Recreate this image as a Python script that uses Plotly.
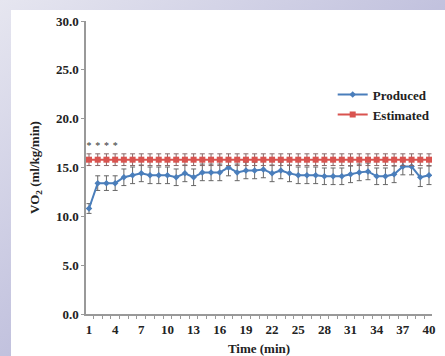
import base64
import plotly.graph_objects as go

minutes = list(range(1, 41))
produced = [10.8, 13.4, 13.4, 13.4, 14.0, 14.2, 14.4, 14.2, 14.2, 14.2,
            14.0, 14.4, 14.0, 14.5, 14.5, 14.5, 15.0, 14.5, 14.7, 14.7,
            14.8, 14.4, 14.7, 14.4, 14.2, 14.2, 14.2, 14.1, 14.1, 14.1,
            14.3, 14.5, 14.6, 14.1, 14.1, 14.3, 15.1, 15.1, 14.0, 14.2]
produced_err = [0.5, 0.75, 0.75, 0.75, 0.85, 0.85, 0.85, 0.85, 0.85, 0.85,
                0.85, 0.85, 0.85, 0.85, 0.85, 0.85, 0.85, 0.85, 0.85, 0.85,
                0.85, 0.85, 0.85, 0.85, 0.85, 0.85, 0.85, 0.85, 0.85, 0.85,
                0.85, 0.85, 0.85, 0.85, 0.85, 0.85, 0.85, 0.85, 0.95, 0.95]
estimated = [15.8, 15.8, 15.8, 15.8, 15.8, 15.8, 15.8, 15.8, 15.8, 15.8,
             15.8, 15.8, 15.8, 15.8, 15.8, 15.8, 15.8, 15.8, 15.8, 15.8,
             15.8, 15.8, 15.8, 15.8, 15.8, 15.8, 15.8, 15.8, 15.8, 15.8,
             15.8, 15.8, 15.8, 15.8, 15.8, 15.8, 15.8, 15.8, 15.8, 15.8]
estimated_err = [0.6] * 40
star_x = [1, 2, 3, 4]
star_y = [17.1, 17.1, 17.1, 17.1]
x_tickvals = list(range(1, 41, 3))
y_tickvals = [0, 5, 10, 15, 20, 25, 30]

W, H = 445, 356
L, R, T, B = 86, 13, 21, 42
pw, ph = W - L - R, H - T - B

svg = f'''<svg xmlns="http://www.w3.org/2000/svg" width="{W}" height="{H}" viewBox="0 0 {W} {H}" preserveAspectRatio="none">
<defs><linearGradient id="g" x1="0" y1="0" x2="1" y2="1">
<stop offset="0" stop-color="#e6e6f0"/><stop offset="0.5" stop-color="#c2c2de"/><stop offset="1" stop-color="#a6a6ce"/>
</linearGradient></defs>
<rect x="0" y="0" width="{W}" height="{H}" fill="url(#g)"/>
<rect x="11" y="10" width="{W-11}" height="{H-10}" fill="#ffffff"/>
</svg>'''
src = "data:image/svg+xml;base64," + base64.b64encode(svg.encode()).decode()

font_family = "Liberation Serif, Times New Roman, serif"

fig = go.Figure()
fig.add_trace(go.Scatter(
    x=minutes, y=produced, name="<b>Produced</b>", mode="lines+markers",
    line=dict(color="#4a7ebb", width=2),
    marker=dict(symbol="diamond", size=5, color="#4a7ebb"),
    error_y=dict(type="data", array=produced_err, color="#666666", thickness=1, width=2.5),
))
fig.add_trace(go.Scatter(
    x=minutes, y=estimated, name="<b>Estimated</b>", mode="lines+markers",
    line=dict(color="#d9534f", width=2),
    marker=dict(symbol="square", size=6, color="#d9534f"),
    error_y=dict(type="data", array=estimated_err, color="#8a6666", thickness=1, width=2.5),
))
fig.add_trace(go.Scatter(
    x=star_x, y=star_y, mode="text", text=["*"] * len(star_x), showlegend=False,
    textfont=dict(family=font_family, size=10, color="#333333"),
    hoverinfo="skip",
))

fig.update_layout(
    width=W, height=H,
    margin=dict(l=L, r=R, t=T, b=B, pad=0, autoexpand=False),
    paper_bgcolor="#c4c4de",
    plot_bgcolor="rgba(0,0,0,0)",
    font=dict(family=font_family, size=13, color="#222222"),
    images=[dict(source=src, xref="paper", yref="paper",
                 x=-L / pw, y=1 + T / ph, sizex=W / pw, sizey=H / ph,
                 xanchor="left", yanchor="top", sizing="stretch", layer="below")],
    legend=dict(x=0.713, y=0.8, xanchor="left", yanchor="top",
                bgcolor="rgba(0,0,0,0)", font=dict(size=13, family=font_family, color="#222222"),
                itemwidth=30, tracegroupgap=0),
    showlegend=True,
    xaxis=dict(
        automargin=False,
        range=[0.656, 40.344], tickmode="array", tickvals=x_tickvals,
        ticktext=[f"<b>{v}</b>" for v in x_tickvals],
        ticks="", showgrid=False, zeroline=False,
        showline=True, linecolor="#999999", linewidth=1.5,
        ticklabelstandoff=3,
        minor=dict(tickmode="linear", tick0=0.5, dtick=1, ticks="outside",
                   ticklen=3, tickcolor="#999999", tickwidth=1, showgrid=False),
        title=dict(text="<b>Time (min)</b>", font=dict(size=13), standoff=10),
        tickfont=dict(size=13),
    ),
    yaxis=dict(
        automargin=False,
        range=[0, 30], tickmode="array", tickvals=y_tickvals,
        ticktext=[f"<b>{v:.1f}</b>" for v in y_tickvals],
        ticks="outside", ticklen=3, tickcolor="#999999",
        showgrid=False, zeroline=False,
        showline=True, linecolor="#999999", linewidth=1.5,
        title=dict(text="<b>VO<sub>2</sub> (ml/kg/min)</b>", font=dict(size=13), standoff=13),
        tickfont=dict(size=13),
    ),
)

fig.write_html("out.html")
